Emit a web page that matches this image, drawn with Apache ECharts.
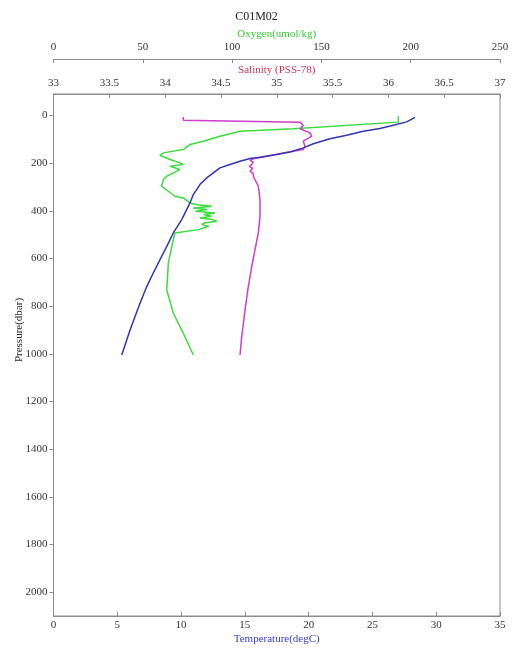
<!DOCTYPE html>
<html>
<head>
<meta charset="utf-8">
<title>C01M02</title>
<script src="https://cdn.jsdelivr.net/npm/echarts@6/dist/echarts.min.js"></script>
<style>
  html, body { margin: 0; padding: 0; background: #fff; }
  #chart { width: 513px; height: 650px; }
</style>
</head>
<body>
<div id="chart"></div>
<script>
// Station C01M02 profile: temperature, salinity and oxygen against pressure.

// Temperature (degC) and the pressure (dbar) of each sample
const tempPressure = [8, 27, 41, 55, 66, 83, 98, 119, 136, 153, 164, 175, 181, 192, 206, 220, 241, 262, 290, 332, 367, 437, 493, 550, 605, 661, 718, 788, 900, 1005];
const tempValues   = [28.34, 27.69, 26.64, 25.59, 24.28, 22.98, 21.67, 20.37, 19.58, 18.54, 17.50, 16.19, 15.40, 14.62, 13.83, 13.05, 12.53, 12.01, 11.48, 10.96, 10.70, 10.05, 9.39, 8.87, 8.35, 7.82, 7.31, 6.78, 6.00, 5.35];

// Salinity (PSS-78)
const salPressure = [7, 20, 28, 42, 56, 73, 87, 108, 129, 143, 157, 171, 182, 188, 196, 206, 214, 222, 234, 244, 255, 297, 353, 423, 493, 563, 634, 718, 816, 928, 1005];
const salValues   = [34.163, 34.163, 35.208, 35.238, 35.208, 35.298, 35.313, 35.238, 35.253, 35.238, 35.059, 34.910, 34.790, 34.760, 34.790, 34.776, 34.755, 34.785, 34.760, 34.790, 34.790, 34.835, 34.850, 34.850, 34.835, 34.805, 34.776, 34.745, 34.716, 34.686, 34.671];

// Oxygen (umol/kg)
const oxyPressure = [3, 28, 56, 66, 87, 108, 122, 143, 157, 167, 185, 199, 206, 213, 227, 241, 255, 269, 297, 318, 339, 346, 367, 375, 381, 388, 395, 402, 409, 416, 423, 430, 437, 444, 451, 458, 465, 479, 493, 550, 619, 732, 830, 914, 1005];
const oxyValues   = [193.1, 193.1, 134.3, 104.4, 93.2, 83.9, 76.4, 72.7, 61.5, 59.6, 65.2, 70.8, 72.7, 65.2, 70.8, 67.1, 63.4, 61.5, 60.6, 64.3, 68.0, 72.7, 76.4, 80.5, 88.6, 78.3, 86.0, 79.5, 90.4, 84.0, 88.5, 82.0, 89.0, 91.4, 84.5, 83.0, 87.0, 81.1, 68.0, 66.2, 64.3, 63.4, 67.1, 72.7, 78.3];

// Axis tick labels
const pressureTicks = [0, 200, 400, 600, 800, 1000, 1200, 1400, 1600, 1800, 2000];

const FONT = 'Liberation Serif';
const AXIS_GREY = '#8c8c8c';
const TEXT = '#333';

function pairs(xs, ps) {
  return xs.map((v, i) => [v, ps[i]]);
}

const plain = v => String(v);

const chart = echarts.init(document.getElementById('chart'), null, { renderer: 'canvas' });

chart.setOption({
  animation: false,
  backgroundColor: '#fff',
  title: {
    text: 'C01M02',
    left: 'center',
    top: 6,
    textStyle: { fontFamily: FONT, fontSize: 12, fontWeight: 'normal', color: '#222' }
  },
  grid: {
    left: 53.5, right: 13, top: 94, bottom: 34,
    outerBoundsMode: 'none', containLabel: false,
    show: true, borderColor: AXIS_GREY, borderWidth: 1, backgroundColor: 'transparent'
  },
  xAxis: [
    {
      // Temperature along the bottom
      type: 'value', position: 'bottom', min: 0, max: 35, interval: 5,
      name: 'Temperature(degC)', nameLocation: 'middle', nameGap: 18, nameMoveOverlap: false,
      nameTextStyle: { fontFamily: FONT, fontSize: 11, color: '#3b3bc4' },
      axisLine: { show: true, onZero: false, lineStyle: { color: AXIS_GREY } },
      axisTick: { show: true, inside: true, length: 4, lineStyle: { color: AXIS_GREY } },
      axisLabel: { fontFamily: FONT, fontSize: 11, color: TEXT, margin: 4, formatter: plain },
      splitLine: { show: false }
    },
    {
      // Salinity along the top of the frame
      type: 'value', position: 'top', min: 33, max: 37, interval: 0.5,
      name: 'Salinity (PSS-78)', nameLocation: 'middle', nameGap: 18, nameMoveOverlap: false,
      nameTextStyle: { fontFamily: FONT, fontSize: 11, color: '#cc3355' },
      axisLine: { show: true, onZero: false, lineStyle: { color: AXIS_GREY } },
      axisTick: { show: true, inside: true, length: 4, lineStyle: { color: AXIS_GREY } },
      axisLabel: { fontFamily: FONT, fontSize: 11, color: TEXT, margin: 5, formatter: plain },
      splitLine: { show: false }
    },
    {
      // Oxygen on its own line above the salinity axis
      type: 'value', position: 'top', offset: 35, min: 0, max: 250, interval: 50,
      name: 'Oxygen(umol/kg)', nameLocation: 'middle', nameGap: 19, nameMoveOverlap: false,
      nameTextStyle: { fontFamily: FONT, fontSize: 11, color: '#33cc33' },
      axisLine: { show: true, onZero: false, lineStyle: { color: AXIS_GREY } },
      axisTick: { show: true, inside: true, length: 4, lineStyle: { color: AXIS_GREY } },
      axisLabel: { fontFamily: FONT, fontSize: 11, color: TEXT, margin: 6, formatter: plain },
      splitLine: { show: false }
    }
  ],
  yAxis: {
    type: 'value', inverse: true, min: -90, max: 2100,
    name: 'Pressure(dbar)', nameLocation: 'middle', nameGap: 29, nameMoveOverlap: false,
    nameTextStyle: { fontFamily: FONT, fontSize: 11, color: '#222', padding: [0, 0, 0, 50] },
    axisLine: { show: true, onZero: false, lineStyle: { color: AXIS_GREY } },
    axisTick: { show: true, inside: false, length: 4, customValues: pressureTicks, lineStyle: { color: AXIS_GREY } },
    axisLabel: { fontFamily: FONT, fontSize: 11, color: TEXT, margin: 6, customValues: pressureTicks, formatter: plain },
    splitLine: { show: false }
  },
  series: [
    {
      name: 'Oxygen', type: 'line', xAxisIndex: 2,
      data: pairs(oxyValues, oxyPressure),
      showSymbol: false, lineStyle: { color: '#3ddc3d', width: 1.5 }
    },
    {
      name: 'Salinity', type: 'line', xAxisIndex: 1,
      data: pairs(salValues, salPressure),
      showSymbol: false, lineStyle: { color: '#d03cd0', width: 1.5 }
    },
    {
      name: 'Temperature', type: 'line', xAxisIndex: 0,
      data: pairs(tempValues, tempPressure),
      showSymbol: false, lineStyle: { color: '#3434b4', width: 1.5 }
    }
  ]
});
</script>
</body>
</html>
